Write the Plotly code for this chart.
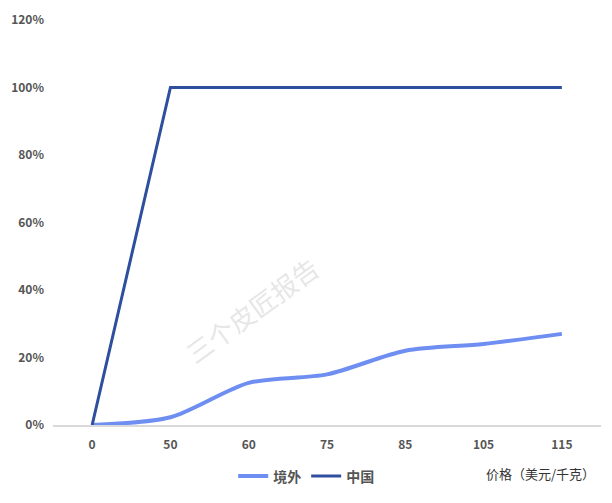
import plotly.graph_objects as go

categories = ["0", "50", "60", "75", "85", "105", "115"]
overseas = [0.0, 0.023, 0.125, 0.15, 0.22, 0.24, 0.27]
china = [0.0, 1.0, 1.0, 1.0, 1.0, 1.0, 1.0]
y_ticks = [0, 0.2, 0.4, 0.6, 0.8, 1.0, 1.2]
y_labels = ["0%", "20%", "40%", "60%", "80%", "100%", "120%"]

font_family = "Noto Sans CJK SC, Noto Sans, sans-serif"
text_color = "#555555"

fig = go.Figure()
fig.add_trace(go.Scatter(
    x=categories, y=overseas, name="<b>境外</b>", mode="lines",
    line=dict(color="#6E8EF2", width=4, shape="spline", smoothing=0.8),
))
fig.add_trace(go.Scatter(
    x=categories, y=china, name="<b>中国</b>", mode="lines",
    line=dict(color="#2E4E9E", width=3),
))

fig.update_layout(
    width=612, height=503,
    margin=dict(l=53, r=11, t=20, b=74),
    paper_bgcolor="white", plot_bgcolor="white",
    font=dict(family=font_family, color=text_color, size=12),
    showlegend=True,
    legend=dict(orientation="h", x=0.462, xanchor="center", y=-0.127, yanchor="middle",
                font=dict(size=14, color=text_color), itemwidth=30,
                tracegroupgap=0),
    xaxis=dict(type="category", range=[-0.5, 6.5], showgrid=False, showline=True,
               linecolor="#D9D9D9", linewidth=1.5, ticks="",
               tickfont=dict(size=12, color=text_color), zeroline=False,
               automargin=False, ticklabelstandoff=8,
               tickvals=categories, ticktext=[f"<b>{c}</b>" for c in categories]),
    yaxis=dict(range=[0, 1.2], tickvals=y_ticks, ticktext=[f"<b>{t}</b>" for t in y_labels],
               showgrid=False, zeroline=False, showline=False, ticks="",
               tickfont=dict(size=12, color=text_color), automargin=False,
               ticklabeloverflow="allow", ticklabelstandoff=8),
)

fig.add_annotation(text="价格（美元/千克）", xref="paper", yref="paper",
                   x=0.993, y=-0.12, xanchor="right", yanchor="middle",
                   showarrow=False, font=dict(size=13, color="#333333"))
fig.add_annotation(text="三个皮匠报告", xref="paper", yref="paper",
                   x=0.363, y=0.284, xanchor="center", yanchor="middle",
                   showarrow=False, textangle=-36,
                   font=dict(size=26, color="rgba(200,200,200,0.45)"))

fig.write_html("out.html", config={"displayModeBar": False},
               post_script="document.body.style.margin='0';")
